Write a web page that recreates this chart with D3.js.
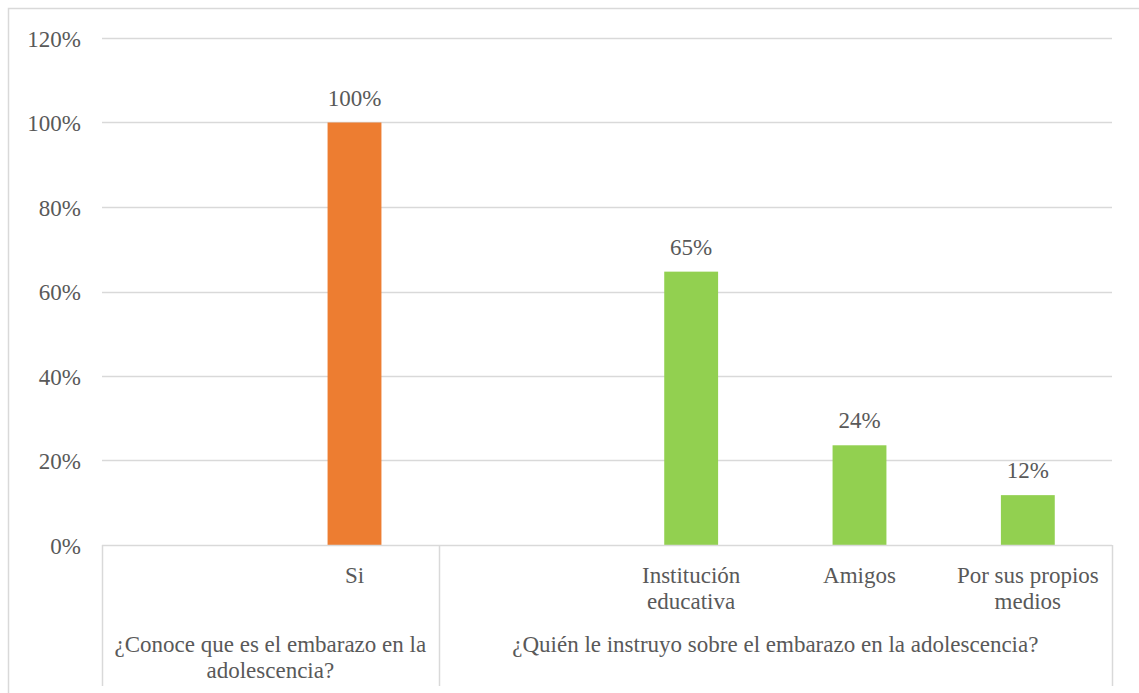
<!DOCTYPE html>
<html><head><meta charset="utf-8">
<script src="https://cdn.jsdelivr.net/npm/d3@7"></script>
</head><body style="margin:0">
<script>
const categories = ["", "Si", "", "Institución educativa", "Amigos", "Por sus propios medios"];
const groups = ["¿Conoce que es el embarazo en la adolescencia?", "¿Quién le instruyo sobre el embarazo en la adolescencia?"];
const groupOf = [0, 0, 1, 1, 1, 1];
const values = [null, 1.00, null, 0.647, 0.236, 0.118];
const colors = [null, "#ED7D31", null, "#92D050", "#92D050", "#92D050"];
const yTicks = [0, 0.2, 0.4, 0.6, 0.8, 1.0, 1.2];

const W = 1139, H = 693;
const svg = d3.select("body").append("svg").attr("width", W).attr("height", H)
  .style("display", "block").attr("font-family", "Liberation Serif");
const fs = 23;
const txt = "#595959", grid = "#d9d9d9";
const styleText = sel => sel.attr("font-family", "Liberation Serif").style("font-family", '"Liberation Serif"')
  .attr("font-size", fs).attr("fill", txt);

svg.append("rect").attr("x", 8.5).attr("y", 8.5).attr("width", W + 10).attr("height", H + 10)
  .attr("fill", "none").attr("stroke", grid).attr("stroke-width", 1.5);

const L = 102, R = 1112, T = 38, B = 545;
const x = d3.scaleBand().domain(d3.range(categories.length)).range([L, R]).paddingInner(0.68).paddingOuter(0.34);
const y = d3.scaleLinear().domain([0, 1.2]).range([B, T]);

svg.append("g").selectAll("line").data(yTicks.filter(d => d > 0)).join("line")
  .attr("x1", L).attr("x2", R).attr("y1", d => Math.round(y(d)) + 0.5).attr("y2", d => Math.round(y(d)) + 0.5)
  .attr("stroke", grid).attr("stroke-width", 1.5);

const yAxis = d3.axisLeft(y).tickValues(yTicks).tickFormat(d3.format(".0%")).tickSize(0).tickPadding(0);
const gy = svg.append("g").attr("transform", `translate(${L - 21},0)`).call(yAxis);
gy.attr("font-family", "Liberation Serif").attr("font-size", fs);
gy.select(".domain").remove();
gy.selectAll("text").call(styleText).attr("dy", "0.35em");

const bw = x.bandwidth();
const idx = d3.range(categories.length).filter(i => values[i] != null);
svg.append("g").selectAll("rect").data(idx).join("rect")
  .attr("x", i => x(i)).attr("width", bw)
  .attr("y", i => y(values[i])).attr("height", i => y(0) - y(values[i]))
  .attr("fill", i => colors[i]);

svg.append("g").selectAll("text").data(idx).join("text")
  .attr("x", i => x(i) + bw / 2).attr("y", i => y(values[i]) - 17)
  .attr("text-anchor", "middle").call(styleText)
  .text(i => d3.format(".0%")(values[i]));

svg.append("line").attr("x1", L).attr("x2", R).attr("y1", B + 0.5).attr("y2", B + 0.5)
  .attr("stroke", grid).attr("stroke-width", 1.5);

const step = x.step();
const bounds = [0];
for (let i = 1; i < categories.length; i++) if (groupOf[i] !== groupOf[i - 1]) bounds.push(i);
bounds.push(categories.length);
const edgeX = i => L + (R - L) * i / categories.length;
svg.append("g").selectAll("line").data(bounds).join("line")
  .attr("x1", i => Math.round(edgeX(i)) + 0.5).attr("x2", i => Math.round(edgeX(i)) + 0.5)
  .attr("y1", B).attr("y2", 686).attr("stroke", grid).attr("stroke-width", 1.5);

function wrapLines(s, maxW) {
  const words = s.split(" "); const lines = []; let cur = "";
  const tmp = svg.append("text").call(styleText);
  words.forEach(w => {
    const t = cur ? cur + " " + w : w;
    tmp.text(t);
    if (tmp.node().getComputedTextLength() > maxW && cur) { lines.push(cur); cur = w; } else cur = t;
  });
  if (cur) lines.push(cur);
  tmp.remove();
  return lines;
}
categories.forEach((c, i) => {
  if (!c) return;
  const lines = wrapLines(c, step - 8);
  const t = svg.append("text").attr("text-anchor", "middle").call(styleText);
  lines.forEach((ln, k) => t.append("tspan").attr("x", x(i) + bw / 2).attr("y", 583 + k * 26).text(ln));
});

groups.forEach((g, gi) => {
  const x0 = edgeX(bounds[gi]), x1 = edgeX(bounds[gi + 1]);
  const lines = wrapLines(g, x1 - x0 - 6);
  const t = svg.append("text").attr("text-anchor", "middle").call(styleText);
  lines.forEach((ln, k) => t.append("tspan").attr("x", (x0 + x1) / 2).attr("y", 652 + k * 26).text(ln));
});
</script>
</body></html>
